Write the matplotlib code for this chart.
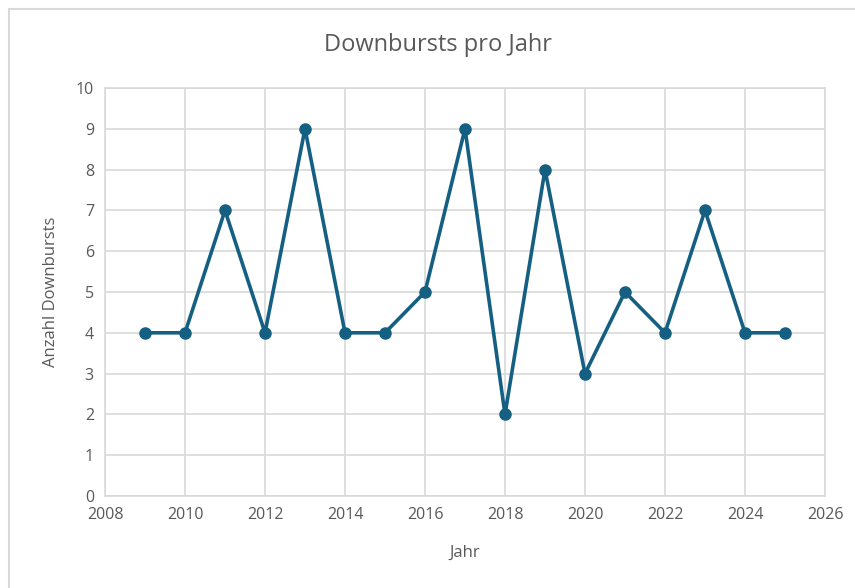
import matplotlib.pyplot as plt
from matplotlib.patches import Rectangle

# Downbursts pro Jahr
jahre = [2009, 2010, 2011, 2012, 2013, 2014, 2015, 2016, 2017,
         2018, 2019, 2020, 2021, 2022, 2023, 2024, 2025]
anzahl = [4, 4, 7, 4, 9, 4, 4, 5, 9, 2, 8, 3, 5, 4, 7, 4, 4]
x_ticks = list(range(2008, 2027, 2))
y_ticks = list(range(0, 11))

plt.rcParams['font.family'] = ['Open Sans', 'DejaVu Sans']
grau = '#595959'
linie = '#156082'

fig = plt.figure(figsize=(8.55, 5.88), dpi=100)
fig.patches.append(Rectangle((9/855, -0.1), 1.2, 1 - 9/588 + 0.1,
                             transform=fig.transFigure, fill=False,
                             edgecolor='#d9d9d9', linewidth=1.5))
ax = fig.add_axes([105/855, 1 - 496/588, 720/855, 408/588])

ax.plot(jahre, anzahl, color=linie, linewidth=2.6, marker='o',
        markersize=8, zorder=3, clip_on=False)

ax.set_xlim(2008, 2026)
ax.set_ylim(0, 10)
ax.set_xticks(x_ticks)
ax.set_yticks(y_ticks)
ax.grid(True, color='#d9d9d9', linewidth=1.2)
ax.set_axisbelow(True)
for s in ax.spines.values():
    s.set_color('#d9d9d9')
    s.set_linewidth(1.2)
ax.tick_params(length=0, labelsize=11.5, labelcolor=grau, pad=8)

# Titel ist in Excel auf das ganze Diagramm zentriert
fig.text(438/855, 1 - 45/588, 'Downbursts pro Jahr', fontsize=17,
         color=grau, ha='center', va='center')
ax.set_xlabel('Jahr', fontsize=12, color=grau, labelpad=16)
ax.set_ylabel('Anzahl Downbursts', fontsize=12, color=grau, labelpad=12)

fig.savefig('out.png', dpi=100)
